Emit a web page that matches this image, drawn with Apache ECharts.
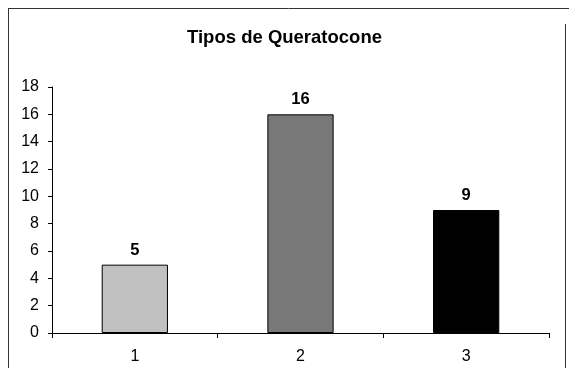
<!DOCTYPE html>
<html>
<head>
<meta charset="utf-8">
<script src="https://cdn.jsdelivr.net/npm/echarts@6/dist/echarts.min.js"></script>
<style>
  html, body { margin: 0; padding: 0; background: #fff; }
  #chart { width: 569px; height: 377px; }
</style>
</head>
<body>
<div id="chart"></div>
<script>
// Keratoconus type counts
const categories = ['1', '2', '3'];
const values = [5, 16, 9];
const barColors = ['#c0c0c0', '#787878', '#000000'];
const yTicks = { min: 0, max: 18, interval: 2 };

const font = '"Liberation Sans", Arial, sans-serif';
const narrowFont = '"Liberation Sans Narrow", "Arial Narrow", "Liberation Sans", sans-serif';
const chart = echarts.init(document.getElementById('chart'), null, { renderer: 'canvas' });

chart.setOption({
  animation: false,
  backgroundColor: '#ffffff',
  title: {
    text: 'Tipos de Queratocone',
    left: 'center',
    top: 23,
    textStyle: { fontFamily: font, fontSize: 18.5, fontWeight: 'bold', color: '#000' }
  },
  grid: { left: 52, right: 20, top: 87, bottom: 44, containLabel: false },
  xAxis: {
    type: 'category',
    data: categories,
    boundaryGap: true,
    axisLine: { show: true, lineStyle: { color: '#000', width: 1 } },
    axisTick: { show: true, length: 5, lineStyle: { color: '#000' } },
    axisLabel: { fontFamily: narrowFont, fontSize: 16, color: '#000', margin: 16 },
    splitLine: { show: false }
  },
  yAxis: {
    type: 'value',
    min: yTicks.min,
    max: yTicks.max,
    interval: yTicks.interval,
    axisLine: { show: true, lineStyle: { color: '#000', width: 1 } },
    axisTick: { show: true, length: 4, lineStyle: { color: '#000' } },
    axisLabel: { fontFamily: narrowFont, fontSize: 16, color: '#000', margin: 13 },
    splitLine: { show: false }
  },
  series: [{
    type: 'bar',
    barWidth: '40%',
    data: values.map((v, i) => ({
      value: v,
      itemStyle: { color: barColors[i], borderColor: '#000', borderWidth: 1 }
    })),
    label: {
      show: true,
      position: 'top',
      distance: 6,
      fontFamily: font,
      fontSize: 16.5,
      fontWeight: 'bold',
      color: '#000'
    }
  }],
  graphic: [
    { type: 'line', shape: { x1: 8, y1: 8.5, x2: 569, y2: 8.5 }, style: { stroke: '#333', lineWidth: 1 } },
    { type: 'line', shape: { x1: 8.5, y1: 8, x2: 8.5, y2: 368 }, style: { stroke: '#333', lineWidth: 1 } },
    { type: 'line', shape: { x1: 565.5, y1: 24, x2: 565.5, y2: 368 }, style: { stroke: '#333', lineWidth: 1 } }
  ]
});
</script>
</body>
</html>
